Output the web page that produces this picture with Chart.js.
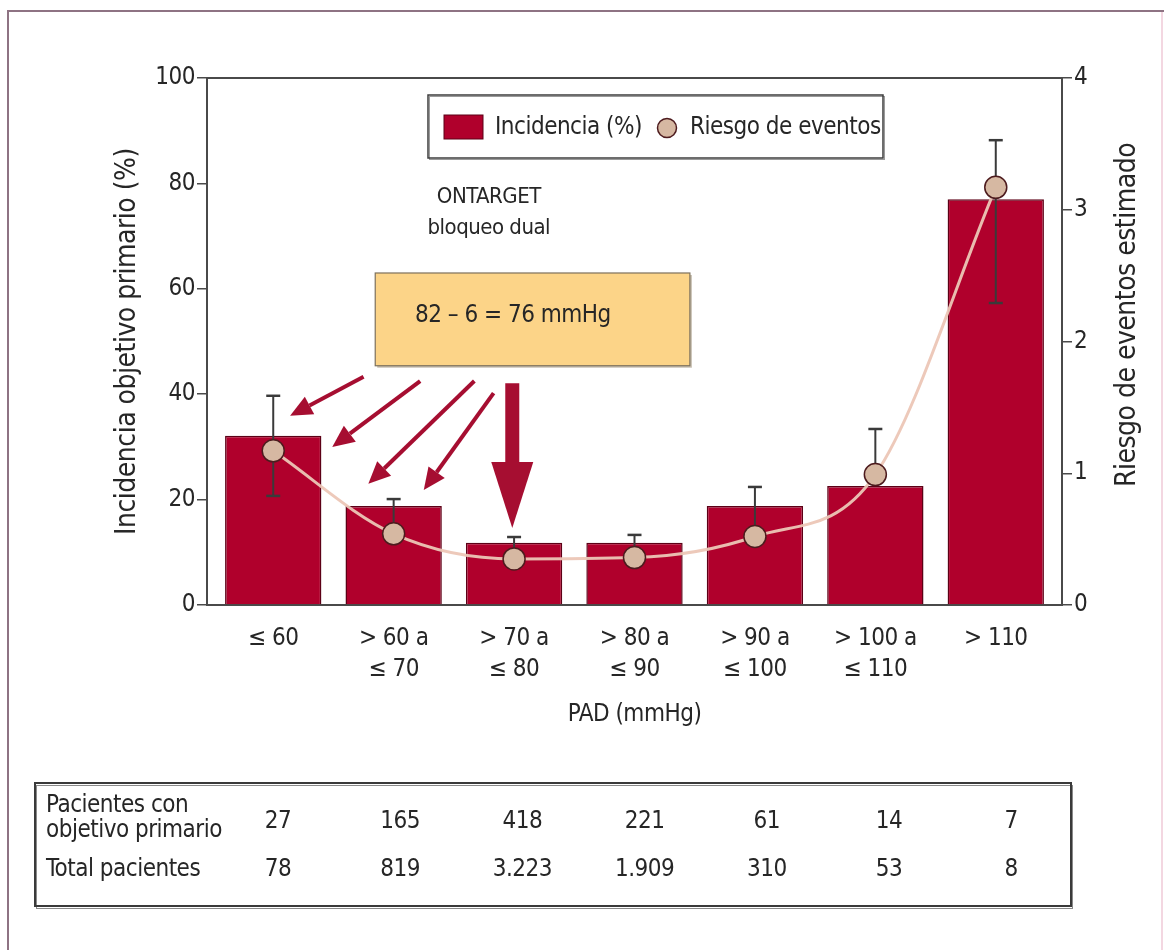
<!DOCTYPE html>
<html lang="es">
<head>
<meta charset="utf-8">
<title>PAD e incidencia del objetivo primario</title>
<script src="https://cdn.jsdelivr.net/npm/chart.js@4.4.1/dist/chart.umd.min.js"></script>
<style>
  html, body { margin: 0; padding: 0; background: #ffffff; }
  #wrap { width: 1164px; height: 950px; position: relative; }
  canvas { display: block; }
</style>
</head>
<body>
<div id="wrap"><canvas id="chart" width="1164" height="950"></canvas></div>
<script>
// Categorías de presión arterial diastólica (PAD, mmHg)
const categories = [
  ['≤ 60'],
  ['> 60 a', '≤ 70'],
  ['> 70 a', '≤ 80'],
  ['> 80 a', '≤ 90'],
  ['> 90 a', '≤ 100'],
  ['> 100 a', '≤ 110'],
  ['> 110']
];
// Incidencia del objetivo primario (%) – barras, eje izquierdo
const incidencia = [32.1, 18.8, 11.8, 11.8, 18.8, 22.6, 77.0];
// Riesgo de eventos estimado – puntos, eje derecho
const riesgo = [1.17, 0.54, 0.35, 0.36, 0.52, 0.99, 3.17];
// Intervalos (en % del eje izquierdo); null = sin bigote inferior visible
const errorHigh = [39.7, 20.1, 12.9, 13.3, 22.4, 33.4, 88.2];
const errorLow = [20.7, null, null, null, null, null, 57.3];
// Tabla inferior
const pacientesObjetivo = ['27', '165', '418', '221', '61', '14', '7'];
const totalPacientes = ['78', '819', '3.223', '1.909', '310', '53', '8'];
// Escalas
const leftTicks = { min: 0, max: 100, step: 20 };
const rightTicks = { min: 0, max: 4, step: 1 };

const FONT = "'Liberation Sans Narrow', 'Arial Narrow', 'DejaVu Sans Condensed', 'Liberation Sans', sans-serif";
const FS = 24;
const FS_TITLE = 28;
const TEXT = '#262626';
const AXIS = '#4a4a4a';
const BAR = '#b0002c';
const BAR_EDGE = '#5c0016';
const DOT = '#d6b8a2';
const DOT_EDGE = '#4d1b1e';
const ARROW = '#a60e31';

Chart.defaults.font.family = FONT;
Chart.defaults.color = TEXT;

function arrow(c, x1, y1, x2, y2, shaft, headLen, headHalf) {
  const a = Math.atan2(y2 - y1, x2 - x1);
  const bx = x2 - headLen * Math.cos(a), by = y2 - headLen * Math.sin(a);
  c.lineWidth = shaft;
  c.lineCap = 'butt';
  c.beginPath(); c.moveTo(x1, y1); c.lineTo(bx, by); c.stroke();
  const nx = -Math.sin(a) * headHalf, ny = Math.cos(a) * headHalf;
  c.beginPath();
  c.moveTo(x2, y2);
  c.lineTo(bx + nx, by + ny);
  c.lineTo(bx - nx, by - ny);
  c.closePath();
  c.fill();
}

const decorations = {
  id: 'decorations',
  beforeDraw(chart) {
    const c = chart.ctx;
    // letra algo más apretada, como la tipografía condensada del original
    if ('letterSpacing' in c) c.letterSpacing = '-0.5px';
    c.save();
    c.fillStyle = '#ffffff';
    c.fillRect(0, 0, chart.width, chart.height);
    // marco exterior de la figura
    c.strokeStyle = '#8e7383';
    c.lineWidth = 2;
    c.beginPath(); c.moveTo(8, chart.height); c.lineTo(8, 11); c.lineTo(chart.width, 11); c.stroke();
    c.strokeStyle = '#f3d7e1';
    c.beginPath(); c.moveTo(chart.width - 2, 12); c.lineTo(chart.width - 2, chart.height); c.stroke();
    c.restore();
  },
  beforeDatasetDraw(chart, args) {
    if (chart.data.datasets[args.index].type !== 'line') return;
    // bigotes de error, por debajo de la curva y de los puntos
    const c = chart.ctx, xs = chart.scales.x, ys = chart.scales.y, y2 = chart.scales.y2;
    c.save();
    c.strokeStyle = '#3a3a3a';
    c.lineWidth = 2;
    const cap = 7;
    errorHigh.forEach((hi, i) => {
      const px = xs.getPixelForValue(i);
      const top = ys.getPixelForValue(hi);
      const low = errorLow[i] == null ? y2.getPixelForValue(riesgo[i]) : ys.getPixelForValue(errorLow[i]);
      c.beginPath(); c.moveTo(px, low); c.lineTo(px, top); c.stroke();
      c.lineWidth = 2.5;
      c.beginPath(); c.moveTo(px - cap, top); c.lineTo(px + cap, top); c.stroke();
      if (errorLow[i] != null) { c.beginPath(); c.moveTo(px - cap, low); c.lineTo(px + cap, low); c.stroke(); }
      c.lineWidth = 2;
    });
    c.restore();
  },
  afterDatasetsDraw(chart) {
    const c = chart.ctx, xs = chart.scales.x, ys = chart.scales.y;
    const area = chart.chartArea;
    const X = v => xs.getPixelForValue(v), Y = v => ys.getPixelForValue(v);
    c.save();

    // línea superior del marco del gráfico
    c.strokeStyle = AXIS; c.lineWidth = 2;
    c.beginPath(); c.moveTo(area.left, area.top); c.lineTo(area.right, area.top); c.stroke();

    // recuadro de la nota
    const bx1 = X(0.847), bx2 = X(3.46), by1 = Y(63.0), by2 = Y(45.4);
    c.fillStyle = '#c9c1b4';
    c.fillRect(bx1 + 2, by1 + 2, bx2 - bx1, by2 - by1);
    c.fillStyle = '#fcd488';
    c.fillRect(bx1, by1, bx2 - bx1, by2 - by1);
    c.strokeStyle = '#7d715c'; c.lineWidth = 1.2;
    c.strokeRect(bx1, by1, bx2 - bx1, by2 - by1);
    c.fillStyle = TEXT;
    c.font = `${FS}px ${FONT}`;
    c.textAlign = 'center'; c.textBaseline = 'middle';
    c.fillText('82 – 6 = 76 mmHg', X(1.99), Y(54.8));

    // ONTARGET
    c.font = `${FS - 2}px ${FONT}`;
    c.fillText('ONTARGET', X(1.79), 197);
    c.fillText('bloqueo dual', X(1.79), 228);

    // flechas hacia las categorías
    c.strokeStyle = ARROW; c.fillStyle = ARROW;
    const thin = [
      [0.75, 43.3, 0.14, 35.9],
      [1.22, 42.5, 0.49, 30.0],
      [1.67, 42.5, 0.79, 23.0],
      [1.83, 40.2, 1.25, 21.8]
    ];
    thin.forEach(([a, b, d, e]) => arrow(c, X(a), Y(b), X(d), Y(e), 4, 22, 10));
    arrow(c, X(1.985), Y(42.1), X(1.985), Y(14.6), 14, 66, 21);

    // leyenda
    c.fillStyle = '#ffffff';
    c.fillRect(428, 95, 455, 63);
    c.strokeStyle = '#9a9a9a'; c.lineWidth = 1;
    c.strokeRect(429.5, 96.5, 455, 63);
    c.strokeStyle = '#3d3d3d'; c.lineWidth = 1.5;
    c.strokeRect(428, 95, 455, 63);
    c.fillStyle = BAR; c.strokeStyle = BAR_EDGE; c.lineWidth = 1;
    c.fillRect(444, 115, 39, 24); c.strokeRect(444, 115, 39, 24);
    c.font = `${FS}px ${FONT}`;
    c.textAlign = 'left'; c.textBaseline = 'middle';
    c.fillStyle = TEXT;
    c.fillText('Incidencia (%)', 495, 128);
    c.beginPath(); c.arc(667, 128, 9.5, 0, Math.PI * 2);
    c.fillStyle = DOT; c.fill();
    c.strokeStyle = DOT_EDGE; c.lineWidth = 1.5; c.stroke();
    c.fillStyle = TEXT;
    c.fillText('Riesgo de eventos', 690, 128);

    // título del eje derecho (lectura de abajo arriba)
    c.save();
    c.font = `${FS_TITLE}px ${FONT}`;
    c.translate(1128, 315);
    c.rotate(-Math.PI / 2);
    c.textAlign = 'center'; c.textBaseline = 'middle';
    c.fillText('Riesgo de eventos estimado', 0, 0);
    c.restore();

    // tabla de pacientes
    c.font = `${FS}px ${FONT}`;
    c.strokeStyle = '#8a8a8a'; c.lineWidth = 1;
    c.strokeRect(36.5, 785.5, 1036, 123);
    c.strokeStyle = '#3a3a3a'; c.lineWidth = 2;
    c.strokeRect(35, 783, 1036, 123);
    c.fillStyle = TEXT;
    c.textAlign = 'left'; c.textBaseline = 'middle';
    c.fillText('Pacientes con', 46, 806);
    c.fillText('objetivo primario', 46, 831);
    c.fillText('Total pacientes', 46, 870);
    c.textAlign = 'center';
    pacientesObjetivo.forEach((v, i) => c.fillText(v, 278 + 122.2 * i, 822));
    totalPacientes.forEach((v, i) => c.fillText(v, 278 + 122.2 * i, 870));

    c.restore();
  }
};

new Chart(document.getElementById('chart'), {
  data: {
    datasets: [
      {
        type: 'line',
        label: 'Riesgo de eventos',
        data: riesgo.map((v, i) => ({ x: i, y: v })),
        yAxisID: 'y2',
        order: 0,
        borderColor: 'rgba(236, 198, 182, 0.95)',
        borderWidth: 3,
        cubicInterpolationMode: 'monotone',
        pointRadius: 11,
        pointBackgroundColor: DOT,
        pointBorderColor: DOT_EDGE,
        pointBorderWidth: 1.5
      },
      {
        type: 'bar',
        label: 'Incidencia (%)',
        data: incidencia.map((v, i) => ({ x: i, y: v })),
        yAxisID: 'y',
        order: 1,
        backgroundColor: BAR,
        borderColor: BAR_EDGE,
        borderWidth: 1.5,
        barPercentage: 0.8,
        categoryPercentage: 1
      }
    ]
  },
  options: {
    responsive: false,
    animation: false,
    events: [],
    layout: { padding: { top: 78, left: 0, right: 0, bottom: 0 } },
    plugins: { legend: { display: false }, tooltip: { enabled: false } },
    scales: {
      x: {
        type: 'linear',
        offset: false,
        min: -0.55,
        max: 6.55,
        afterBuildTicks: s => { s.ticks = categories.map((_, i) => ({ value: i })); },
        afterFit: s => { s.height = 345; },
        grid: { display: false },
        border: { display: true, color: AXIS, width: 2 },
        ticks: {
          autoSkip: false,
          maxRotation: 0,
          padding: 10,
          color: TEXT,
          font: { size: FS, lineHeight: 1.3 },
          callback: v => categories[v]
        },
        title: {
          display: true,
          text: 'PAD (mmHg)',
          color: TEXT,
          font: { size: FS, lineHeight: 1.2 },
          padding: { top: 0, bottom: 221 }
        }
      },
      y: {
        type: 'linear',
        position: 'left',
        min: leftTicks.min,
        max: leftTicks.max,
        afterFit: s => { s.width = 207; },
        grid: { drawOnChartArea: false, drawTicks: true, tickLength: 10, color: AXIS, lineWidth: 1.5 },
        border: { display: true, color: AXIS, width: 2 },
        ticks: { stepSize: leftTicks.step, padding: 2, color: TEXT, font: { size: FS } },
        title: {
          display: true,
          text: 'Incidencia objetivo primario (%)',
          color: TEXT,
          font: { size: FS_TITLE, lineHeight: 1.2 },
          padding: { top: 111, bottom: 0 }
        }
      },
      y2: {
        type: 'linear',
        position: 'right',
        min: rightTicks.min,
        max: rightTicks.max,
        afterFit: s => { s.width = 102; },
        grid: { drawOnChartArea: false, drawTicks: true, tickLength: 10, color: AXIS, lineWidth: 1.5 },
        border: { display: true, color: AXIS, width: 2 },
        ticks: { stepSize: rightTicks.step, padding: 2, color: TEXT, font: { size: FS } }
      }
    }
  },
  plugins: [decorations]
});
</script>
</body>
</html>
